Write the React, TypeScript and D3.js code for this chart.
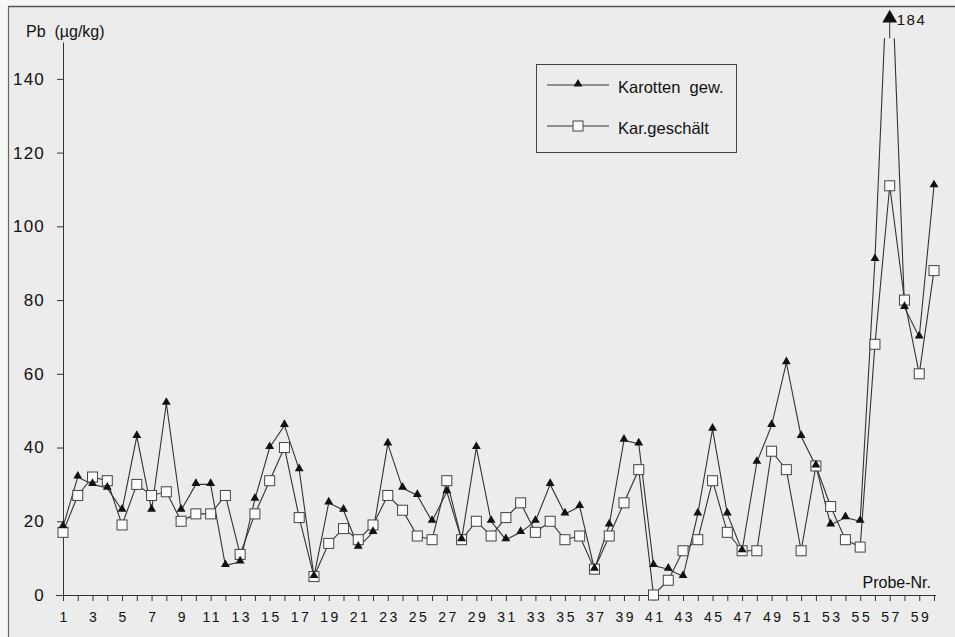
import React, { useEffect, useRef } from 'react';
import * as d3 from 'd3';

// Probe-Nr. 1..60
const samples = d3.range(1, 61);

// Karotten gewaschen (triangles), Pb in µg/kg
const karottenGew = [
  18.5, 32, 30, 29, 23, 43, 23, 52, 23, 30,
  30, 8, 9, 26, 40, 46, 34, 5, 25, 23,
  13, 17, 41, 29, 27, 20, 28, 15, 40, 20,
  15, 17, 20, 30, 22, 24, 7, 19, 42, 41,
  8, 7, 5, 22, 45, 22, 12, 36, 46, 63,
  43, 35, 19, 21, 20, 91, 184, 78, 70, 111,
];

// Karotten geschält (squares)
const karGeschaelt = [
  17, 27, 32, 31, 19, 30, 27, 28, 20, 22,
  22, 27, 11, 22, 31, 40, 21, 5, 14, 18,
  15, 19, 27, 23, 16, 15, 31, 15, 20, 16,
  21, 25, 17, 20, 15, 16, 7, 16, 25, 34,
  0, 4, 12, 15, 31, 17, 12, 12, 39, 34,
  12, 35, 24, 15, 13, 68, 111, 80, 60, 88,
];

const yTicks = [0, 20, 40, 60, 80, 100, 120, 140];
const seriesNames = ['Karotten  gew.', 'Kar.geschält'];

const W = 955;
const H = 637;
const FONT = '"Liberation Sans", Arial, Helvetica, sans-serif';

const App = () => {
  const ref = useRef<SVGSVGElement>(null);

  useEffect(() => {
    const svg = d3.select(ref.current);
    svg.selectAll('*').remove();

    const x = d3.scaleLinear().domain([1, 60]).range([63, 934]);
    const y = d3.scaleLinear().domain([0, 150]).range([595, 42]);

    // scanned page background + frame
    svg.append('rect').attr('width', W).attr('height', H).attr('fill', '#f7f7f7');
    svg.append('rect').attr('x', 8).attr('y', 6).attr('width', W - 8).attr('height', H - 6).attr('fill', '#ececec');
    svg.append('line').attr('x1', 8).attr('x2', W).attr('y1', 6.5).attr('y2', 6.5).attr('stroke', '#555').attr('stroke-width', 1.5);
    svg.append('line').attr('x1', 8.5).attr('x2', 8.5).attr('y1', 6).attr('y2', H).attr('stroke', '#666').attr('stroke-width', 1.2);

    // y axis
    const gy = svg.append('g')
      .attr('transform', 'translate(63,0)')
      .call(d3.axisLeft(y).tickValues(yTicks).tickSize(6).tickSizeOuter(0).tickPadding(12));
    gy.select('.domain').attr('stroke', '#333');
    gy.selectAll('.tick line').attr('stroke', '#333');
    gy.selectAll('.tick text')
      .style('font-family', FONT)
      .style('font-size', '17px')
      .style('letter-spacing', '1.2px')
      .attr('fill', '#111');

    // x axis
    const gx = svg.append('g')
      .attr('transform', `translate(0,${y(0)})`)
      .call(
        d3.axisBottom(x)
          .tickValues(samples)
          .tickSize(6)
          .tickSizeOuter(0)
          .tickPadding(11)
          .tickFormat((d) => ((d as number) % 2 === 1 ? String(d) : ''))
      );
    gx.select('.domain').attr('stroke', '#333').attr('d', `M56,0.5H936`);
    gx.selectAll('.tick line').attr('stroke', '#333');
    gx.selectAll('.tick text')
      .style('font-family', FONT)
      .style('font-size', '14px')
      .style('letter-spacing', '2.5px')
      .attr('dx', 1.2)
      .attr('fill', '#111');

    // axis titles
    svg.append('text')
      .attr('x', 26).attr('y', 37)
      .style('font-family', FONT).style('font-size', '16px').attr('fill', '#111')
      .attr('xml:space', 'preserve')
      .text('Pb  (µg/kg)');
    svg.append('text')
      .attr('x', 931).attr('y', 588)
      .attr('text-anchor', 'end')
      .style('font-family', FONT).style('font-size', '16px').attr('fill', '#111')
      .text('Probe-Nr.');

    // clip for off-scale values
    svg.append('clipPath').attr('id', 'plotclip')
      .append('rect').attr('x', 0).attr('y', y(151)).attr('width', W).attr('height', H);

    const line = d3.line<number>()
      .x((_, i) => x(samples[i]))
      .y((d) => y(d));

    const plot = svg.append('g').attr('clip-path', 'url(#plotclip)');

    plot.append('path')
      .datum(karGeschaelt)
      .attr('d', line)
      .attr('fill', 'none')
      .attr('stroke', '#333')
      .attr('stroke-width', 1.1);
    plot.append('path')
      .datum(karottenGew)
      .attr('d', line)
      .attr('fill', 'none')
      .attr('stroke', '#333')
      .attr('stroke-width', 1.1);

    const tri = d3.symbol().type(d3.symbolTriangle).size(34);
    const bigTri = d3.symbol().type(d3.symbolTriangle).size(95);

    // squares
    plot.selectAll('.sq')
      .data(karGeschaelt)
      .enter()
      .append('rect')
      .attr('class', 'sq')
      .attr('x', (_, i) => x(samples[i]) - 5)
      .attr('y', (d) => y(d) - 5)
      .attr('width', 10)
      .attr('height', 10)
      .attr('fill', '#fbfbfb')
      .attr('stroke', '#444')
      .attr('stroke-width', 1);

    // triangles (in scale)
    plot.selectAll('.tri')
      .data(karottenGew.map((v, i) => ({ v, i })).filter((d) => d.v <= 150))
      .enter()
      .append('path')
      .attr('class', 'tri')
      .attr('d', tri)
      .attr('transform', (d) => `translate(${x(samples[d.i])},${y(d.v) - 1})`)
      .attr('fill', '#111');

    // off-scale value shown at the top with its number
    karottenGew.forEach((v, i) => {
      if (v <= 150) return;
      const cx = x(samples[i]);
      const top = y(151) - 20;
      svg.append('line')
        .attr('x1', cx).attr('x2', cx)
        .attr('y1', top).attr('y2', y(151))
        .attr('stroke', '#333').attr('stroke-width', 1);
      svg.append('path')
        .attr('d', bigTri)
        .attr('transform', `translate(${cx},${top})`)
        .attr('fill', '#111');
      svg.append('text')
        .attr('x', cx + 7).attr('y', top + 7)
        .style('font-family', FONT).style('font-size', '15px')
        .style('letter-spacing', '1.5px')
        .attr('fill', '#111')
        .text(String(v));
    });

    // legend
    const lg = svg.append('g');
    lg.append('rect')
      .attr('x', 536.5).attr('y', 64.5).attr('width', 200).attr('height', 88)
      .attr('fill', 'none').attr('stroke', '#444').attr('stroke-width', 1);
    const legendY = [85, 126];
    seriesNames.forEach((name, k) => {
      const ly = legendY[k];
      lg.append('line')
        .attr('x1', 547).attr('x2', 609).attr('y1', ly).attr('y2', ly)
        .attr('stroke', '#333').attr('stroke-width', 1);
      if (k === 0) {
        lg.append('path').attr('d', tri).attr('transform', `translate(578,${ly - 1})`).attr('fill', '#111');
      } else {
        lg.append('rect')
          .attr('x', 573).attr('y', ly - 5).attr('width', 10).attr('height', 10)
          .attr('fill', '#fbfbfb').attr('stroke', '#444');
      }
      lg.append('text')
        .attr('x', 618).attr('y', ly + 8)
        .style('font-family', FONT).style('font-size', '16.5px').attr('fill', '#111')
        .attr('xml:space', 'preserve')
        .text(name);
    });
  }, []);

  return (
    <svg
      ref={ref}
      width={W}
      height={H}
      style={{ position: 'absolute', left: 0, top: 0, display: 'block' }}
    />
  );
};

export default App;
